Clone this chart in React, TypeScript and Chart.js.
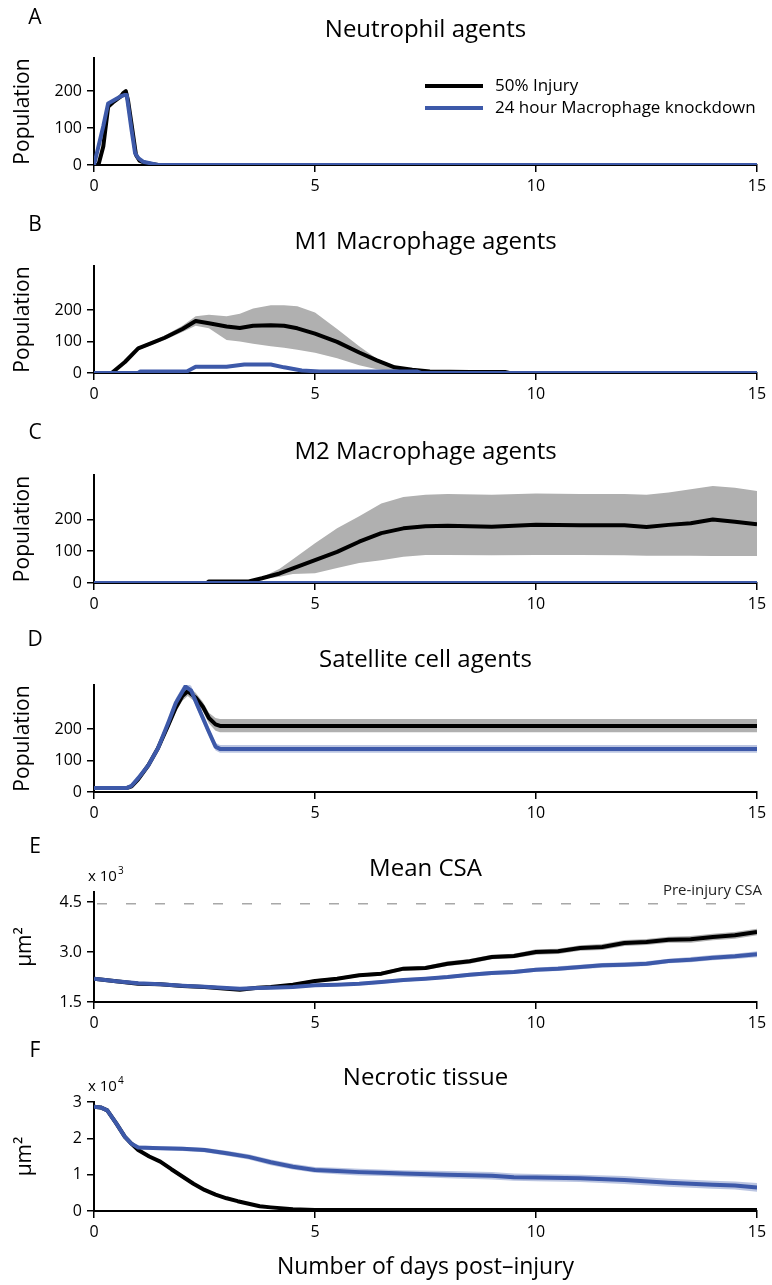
import React, { useEffect, useRef } from "react";
import { Chart, registerables } from "chart.js";
Chart.register(...registerables);

const FONT = "'Open Sans', 'DejaVu Sans', sans-serif";
Chart.defaults.font.family = FONT;
Chart.defaults.color = "#000";

const BLACK = "#000000";
const BLUE = "#3d59a9";
const BLUE_BAND = "rgba(61,89,169,0.35)";
const GRAY_BAND = "#b0b0b0";
const REF_GRAY = "#a8a8a8";

// ---------- tick values ----------
const xTickValues = [0, 5, 10, 15];
const popTicks = [0, 100, 200];
const csaTicks = [1.5, 3.0, 4.5];
const necTicks = [0, 1, 2, 3];

// ---------- legend ----------
const legendLabels = ["50% Injury", "24 hour Macrophage knockdown"];

// ---------- A: Neutrophil agents ----------
const aInjDays = [0, 0.1, 0.21, 0.32, 0.45, 0.6, 0.66, 0.72, 0.77, 0.85, 0.95, 1.03, 1.15, 1.3, 1.45, 15];
const aInj = [0, 0, 50, 158, 172, 185, 195, 200, 175, 110, 27, 12, 6, 3, 0, 0];
const aKdDays = [0, 0.02, 0.21, 0.32, 0.44, 0.59, 0.7, 0.74, 0.85, 0.93, 1.0, 1.11, 1.34, 1.45, 15];
const aKd = [0, 0, 105, 167, 175, 185, 190, 190, 95, 32, 19, 9, 3, 0, 0];

// ---------- B: M1 Macrophage agents ----------
const bInjDays = [0, 0.4, 0.7, 1.0, 1.3, 1.6, 2.0, 2.3, 2.6, 3.0, 3.3, 3.6, 4.0, 4.3, 4.6, 5.0, 5.5, 6.0, 6.4, 6.8, 7.2, 7.6, 8.5, 9.3, 9.4, 15];
const bInj = [0, 0, 35, 78, 95, 112, 140, 165, 158, 148, 143, 150, 152, 150, 142, 125, 99, 65, 40, 18, 10, 5, 3, 3, 0, 0];
const bInjUp = [0, 0, 40, 83, 101, 119, 150, 180, 185, 180, 188, 205, 215, 215, 212, 192, 140, 85, 45, 22, 12, 6, 3, 3, 0, 0];
const bInjLo = [0, 0, 30, 73, 89, 105, 130, 150, 142, 105, 100, 93, 85, 80, 74, 64, 47, 25, 12, 5, 3, 2, 3, 3, 0, 0];
const bKdDays = [0, 1.0, 1.05, 2.1, 2.3, 3.0, 3.4, 4.0, 4.3, 4.7, 5.1, 7.3, 7.4, 15];
const bKd = [0, 0, 5, 5, 20, 20, 27, 27, 18, 8, 5, 5, 0, 0];
const bKdUp = [1, 1, 7, 7, 23, 23, 31, 31, 21, 10, 6, 6, 1, 1];
const bKdLo = [0, 0, 3, 3, 17, 17, 23, 23, 15, 6, 4, 4, 0, 0];

// ---------- C: M2 Macrophage agents ----------
const cInjDays = [0, 2.55, 2.6, 3.5, 3.8, 4.2, 4.5, 5.0, 5.5, 6.0, 6.5, 7.0, 7.5, 8.0, 9.0, 10.0, 11.0, 12.0, 12.5, 13.0, 13.5, 14.0, 14.5, 15.0];
const cInj = [0, 0, 5, 5, 15, 30, 46, 72, 98, 130, 157, 172, 179, 180, 177, 183, 182, 182, 176, 183, 188, 200, 193, 185];
const cInjUp = [0, 0, 5, 5, 18, 45, 75, 125, 172, 210, 250, 271, 278, 280, 278, 282, 280, 280, 278, 285, 295, 305, 300, 290];
const cInjLo = [0, 0, 5, 5, 12, 20, 28, 31, 47, 63, 72, 83, 88, 88, 87, 88, 88, 87, 86, 86, 86, 85, 85, 85];
const cKdDays = [0, 15];
const cKd = [0, 0];

// ---------- D: Satellite cell agents ----------
const dInjDays = [0, 0.75, 0.85, 1.0, 1.23, 1.45, 1.68, 1.85, 2.0, 2.12, 2.3, 2.46, 2.6, 2.75, 2.85, 15];
const dInj = [13, 13, 18, 40, 85, 140, 212, 268, 305, 320, 300, 272, 235, 215, 210, 210];
const dInjUp = [16, 16, 22, 46, 93, 150, 225, 282, 320, 335, 315, 287, 252, 235, 232, 232];
const dInjLo = [10, 10, 14, 34, 77, 130, 199, 254, 290, 305, 285, 257, 218, 195, 190, 190];
const dKdDays = [0, 0.75, 0.85, 1.0, 1.23, 1.45, 1.68, 1.85, 2.07, 2.2, 2.35, 2.58, 2.75, 2.85, 15];
const dKd = [13, 13, 20, 44, 85, 140, 220, 283, 335, 322, 272, 197, 144, 137, 137];
const dKdUp = [16, 16, 24, 50, 93, 150, 232, 297, 350, 337, 287, 210, 156, 149, 149];
const dKdLo = [10, 10, 16, 38, 77, 130, 208, 269, 320, 307, 257, 184, 132, 125, 125];

// ---------- E: Mean CSA (x 10^3 um^2) ----------
const eDays = [0, 0.5, 1, 1.5, 2, 2.5, 3, 3.3, 3.7, 4, 4.5, 5, 5.5, 6, 6.5, 7, 7.5, 8, 8.5, 9, 9.5, 10, 10.5, 11, 11.5, 12, 12.5, 13, 13.5, 14, 14.5, 15];
const eInj = [2.2, 2.12, 2.05, 2.03, 1.98, 1.95, 1.9, 1.87, 1.93, 1.95, 2.02, 2.13, 2.2, 2.3, 2.35, 2.5, 2.52, 2.65, 2.72, 2.85, 2.88, 3.0, 3.02, 3.12, 3.15, 3.27, 3.3, 3.37, 3.38, 3.45, 3.5, 3.6];
const eInjUp = [2.23, 2.15, 2.08, 2.06, 2.01, 1.98, 1.93, 1.9, 1.97, 1.99, 2.06, 2.18, 2.25, 2.35, 2.41, 2.56, 2.58, 2.72, 2.79, 2.92, 2.95, 3.08, 3.1, 3.2, 3.24, 3.36, 3.39, 3.46, 3.48, 3.55, 3.6, 3.7];
const eInjLo = [2.17, 2.09, 2.02, 2.0, 1.95, 1.92, 1.87, 1.84, 1.89, 1.91, 1.98, 2.08, 2.15, 2.25, 2.29, 2.44, 2.46, 2.58, 2.65, 2.78, 2.81, 2.92, 2.94, 3.04, 3.06, 3.18, 3.21, 3.28, 3.28, 3.35, 3.4, 3.5];
const eKd = [2.2, 2.12, 2.06, 2.03, 1.99, 1.96, 1.92, 1.9, 1.92, 1.93, 1.95, 2.0, 2.02, 2.05, 2.1, 2.16, 2.2, 2.25, 2.32, 2.37, 2.4, 2.47, 2.5, 2.55, 2.6, 2.62, 2.65, 2.73, 2.77, 2.83, 2.87, 2.93];
const eKdUp = [2.23, 2.15, 2.09, 2.06, 2.02, 1.99, 1.95, 1.93, 1.95, 1.96, 1.99, 2.04, 2.06, 2.1, 2.15, 2.21, 2.25, 2.3, 2.38, 2.43, 2.46, 2.53, 2.57, 2.62, 2.67, 2.69, 2.72, 2.8, 2.85, 2.91, 2.95, 3.02];
const eKdLo = [2.17, 2.09, 2.03, 2.0, 1.96, 1.93, 1.89, 1.87, 1.89, 1.9, 1.91, 1.96, 1.98, 2.0, 2.05, 2.11, 2.15, 2.2, 2.26, 2.31, 2.34, 2.41, 2.43, 2.48, 2.53, 2.55, 2.58, 2.66, 2.69, 2.75, 2.79, 2.84];
const ePreInjury = 4.45;

// ---------- F: Necrotic tissue (x 10^4 um^2) ----------
const fInjDays = [0, 0.15, 0.3, 0.5, 0.7, 0.85, 1.0, 1.25, 1.5, 1.75, 2.0, 2.25, 2.5, 2.75, 3.0, 3.25, 3.5, 3.75, 4.0, 4.5, 5, 15];
const fInj = [2.87, 2.85, 2.77, 2.42, 2.04, 1.85, 1.68, 1.5, 1.36, 1.15, 0.95, 0.75, 0.58, 0.45, 0.35, 0.27, 0.2, 0.13, 0.1, 0.05, 0.03, 0.03];
const fInjUp = [2.9, 2.88, 2.8, 2.45, 2.07, 1.88, 1.72, 1.54, 1.4, 1.2, 1.0, 0.8, 0.62, 0.49, 0.39, 0.3, 0.23, 0.16, 0.12, 0.07, 0.05, 0.05];
const fInjLo = [2.84, 2.82, 2.74, 2.39, 2.01, 1.82, 1.64, 1.46, 1.32, 1.1, 0.9, 0.7, 0.54, 0.41, 0.31, 0.24, 0.17, 0.1, 0.08, 0.03, 0.01, 0.01];
const fKdDays = [0, 0.15, 0.3, 0.5, 0.7, 0.85, 1.0, 1.5, 2.0, 2.5, 3.0, 3.5, 4.0, 4.5, 5.0, 5.5, 6.0, 6.5, 7.0, 8.0, 9.0, 9.5, 10, 11, 12, 13, 14, 14.5, 15];
const fKd = [2.87, 2.85, 2.77, 2.42, 2.04, 1.85, 1.75, 1.73, 1.71, 1.68, 1.59, 1.49, 1.34, 1.22, 1.13, 1.1, 1.07, 1.05, 1.03, 1.0, 0.97, 0.93, 0.92, 0.9, 0.85, 0.78, 0.72, 0.7, 0.65];
const fKdUp = [2.9, 2.88, 2.8, 2.45, 2.08, 1.89, 1.8, 1.78, 1.77, 1.74, 1.66, 1.56, 1.42, 1.3, 1.21, 1.19, 1.16, 1.14, 1.12, 1.1, 1.07, 1.03, 1.02, 1.0, 0.96, 0.89, 0.83, 0.81, 0.77];
const fKdLo = [2.84, 2.82, 2.74, 2.39, 2.0, 1.81, 1.7, 1.68, 1.65, 1.62, 1.52, 1.42, 1.26, 1.14, 1.05, 1.01, 0.98, 0.96, 0.94, 0.9, 0.87, 0.83, 0.82, 0.8, 0.74, 0.67, 0.61, 0.59, 0.53];

type Band = { days: number[]; upper: number[]; lower: number[]; color: string };
interface PanelCfg {
  top: number;
  height: number;
  chartTop: number;
  titleCenter: number;
  xAxisH: number;
  title: string;
  letter: string;
  letterY: number;
  yMin: number;
  yMax: number;
  yTicks: number[];
  yTitle: string;
  yTitlePad: number;
  yFmt: (v: number) => string;
  injDays: number[];
  inj: number[];
  kdDays: number[];
  kd: number[];
  injBand?: Band;
  kdBand?: Band;
  ref?: number;
  multiplier?: { base: string; exp: string; y: number };
  legend?: boolean;
  xTitle?: string;
}

const intFmt = (v: number) => String(v);

const panels: PanelCfg[] = [
  {
    top: 0, height: 200, chartTop: 58, titleCenter: 30, xAxisH: 35,
    title: "Neutrophil agents", letter: "A", letterY: 18,
    yMin: 0, yMax: 290, yTicks: popTicks, yTitle: "Population", yTitlePad: 10, yFmt: intFmt,
    injDays: aInjDays, inj: aInj, kdDays: aKdDays, kd: aKd, legend: true,
  },
  {
    top: 200, height: 208, chartTop: 266, titleCenter: 242, xAxisH: 35,
    title: "M1 Macrophage agents", letter: "B", letterY: 225,
    yMin: 0, yMax: 340, yTicks: popTicks, yTitle: "Population", yTitlePad: 10, yFmt: intFmt,
    injDays: bInjDays, inj: bInj, kdDays: bKdDays, kd: bKd,
    injBand: { days: bInjDays, upper: bInjUp, lower: bInjLo, color: GRAY_BAND },
    kdBand: { days: bKdDays, upper: bKdUp, lower: bKdLo, color: BLUE_BAND },
  },
  {
    top: 408, height: 210, chartTop: 475, titleCenter: 452, xAxisH: 35,
    title: "M2 Macrophage agents", letter: "C", letterY: 433,
    yMin: 0, yMax: 340, yTicks: popTicks, yTitle: "Population", yTitlePad: 10, yFmt: intFmt,
    injDays: cInjDays, inj: cInj, kdDays: cKdDays, kd: cKd,
    injBand: { days: cInjDays, upper: cInjUp, lower: cInjLo, color: GRAY_BAND },
  },
  {
    top: 618, height: 209, chartTop: 685, titleCenter: 660, xAxisH: 35,
    title: "Satellite cell agents", letter: "D", letterY: 640,
    yMin: 0, yMax: 340, yTicks: popTicks, yTitle: "Population", yTitlePad: 10, yFmt: intFmt,
    injDays: dInjDays, inj: dInj, kdDays: dKdDays, kd: dKd,
    injBand: { days: dInjDays, upper: dInjUp, lower: dInjLo, color: GRAY_BAND },
    kdBand: { days: dKdDays, upper: dKdUp, lower: dKdLo, color: BLUE_BAND },
  },
  {
    top: 827, height: 210, chartTop: 892, titleCenter: 869, xAxisH: 35,
    title: "Mean CSA", letter: "E", letterY: 847,
    yMin: 1.5, yMax: 4.8, yTicks: csaTicks, yTitle: "\u03bcm\u00b2", yTitlePad: 12, yFmt: (v) => v.toFixed(1),
    injDays: eDays, inj: eInj, kdDays: eDays, kd: eKd,
    injBand: { days: eDays, upper: eInjUp, lower: eInjLo, color: GRAY_BAND },
    kdBand: { days: eDays, upper: eKdUp, lower: eKdLo, color: BLUE_BAND },
    ref: ePreInjury,
    multiplier: { base: "x 10", exp: "3", y: 877 },
  },
  {
    top: 1037, height: 248, chartTop: 1102, titleCenter: 1078, xAxisH: 74,
    title: "Necrotic tissue", letter: "F", letterY: 1051,
    yMin: 0, yMax: 3, yTicks: necTicks, yTitle: "\u03bcm\u00b2", yTitlePad: 12, yFmt: intFmt,
    injDays: fInjDays, inj: fInj, kdDays: fKdDays, kd: fKd,
    injBand: { days: fInjDays, upper: fInjUp, lower: fInjLo, color: GRAY_BAND },
    kdBand: { days: fKdDays, upper: fKdUp, lower: fKdLo, color: BLUE_BAND },
    multiplier: { base: "x 10", exp: "4", y: 1087 },
    xTitle: "Number of days post\u2013injury",
  },
];

const pts = (xs: number[], ys: number[]) => xs.map((x, i) => ({ x, y: ys[i] }));

function buildConfig(p: PanelCfg): any {
  const datasets: any[] = [];
  datasets.push({
    label: legendLabels[1], data: pts(p.kdDays, p.kd), borderColor: BLUE, borderWidth: 4,
    pointRadius: 0, fill: false, tension: 0, borderJoinStyle: "round",
  });
  datasets.push({
    label: legendLabels[0], data: pts(p.injDays, p.inj), borderColor: BLACK, borderWidth: 4,
    pointRadius: 0, fill: false, tension: 0, borderJoinStyle: "round",
  });
  if (p.kdBand) {
    datasets.push({ label: "kd upper", data: pts(p.kdBand.days, p.kdBand.upper), borderWidth: 0, pointRadius: 0, backgroundColor: p.kdBand.color, fill: "+1", tension: 0 });
    datasets.push({ label: "kd lower", data: pts(p.kdBand.days, p.kdBand.lower), borderWidth: 0, pointRadius: 0, fill: false, tension: 0 });
  }
  if (p.injBand) {
    datasets.push({ label: "inj upper", data: pts(p.injBand.days, p.injBand.upper), borderWidth: 0, pointRadius: 0, backgroundColor: p.injBand.color, fill: "+1", tension: 0 });
    datasets.push({ label: "inj lower", data: pts(p.injBand.days, p.injBand.lower), borderWidth: 0, pointRadius: 0, fill: false, tension: 0 });
  }
  if (p.ref !== undefined) {
    datasets.push({
      label: "Pre-injury CSA", data: [{ x: 0, y: p.ref }, { x: 15, y: p.ref }],
      borderColor: REF_GRAY, borderWidth: 1.5, borderDash: [10, 19], borderDashOffset: -3, pointRadius: 0, fill: false,
    });
  }

  const rel = (abs: number) => abs - p.top;
  const lh = 24 * 1.2;
  const tPadTop = rel(p.titleCenter) - lh / 2;
  const tPadBottom = rel(p.chartTop) - tPadTop - lh;

  const overlay = {
    id: "overlay" + p.letter,
    afterDraw(chart: any) {
      const ctx = chart.ctx;
      ctx.save();
      ctx.fillStyle = "#000";
      ctx.textBaseline = "middle";
      ctx.textAlign = "center";
      ctx.font = `21px ${FONT}`;
      ctx.fillText(p.letter, 35, rel(p.letterY));
      if (p.multiplier) {
        ctx.textAlign = "left";
        ctx.font = `15px ${FONT}`;
        ctx.fillText(p.multiplier.base, 88, rel(p.multiplier.y));
        const w = ctx.measureText(p.multiplier.base).width;
        ctx.font = `10px ${FONT}`;
        ctx.fillText(p.multiplier.exp, 88 + w + 1, rel(p.multiplier.y) - 6);
      }
      if (p.ref !== undefined) {
        ctx.textAlign = "right";
        ctx.font = `15px ${FONT}`;
        ctx.fillStyle = "#222";
        ctx.fillText("Pre-injury CSA", 762, rel(891));
      }
      if (p.legend) {
        const items = [
          { label: legendLabels[0], color: BLACK, y: 86 },
          { label: legendLabels[1], color: BLUE, y: 108 },
        ];
        ctx.textAlign = "left";
        ctx.font = `17px ${FONT}`;
        items.forEach((it) => {
          ctx.strokeStyle = it.color;
          ctx.lineWidth = 4;
          ctx.beginPath();
          ctx.moveTo(425, rel(it.y));
          ctx.lineTo(483, rel(it.y));
          ctx.stroke();
          ctx.fillStyle = "#000";
          ctx.fillText(it.label, 495, rel(it.y));
        });
      }
      ctx.restore();
    },
  };

  const axisCommon = {
    grid: { drawOnChartArea: false, drawTicks: true, tickLength: 7, color: "#000", lineWidth: 1.5 },
    border: { display: true, color: "#000", width: 2 },
  };

  return {
    type: "line",
    data: { datasets },
    plugins: [overlay],
    options: {
      responsive: false,
      animation: false,
      events: [],
      layout: { padding: { top: 0, right: 15, left: 0, bottom: 0 } },
      plugins: {
        legend: { display: false },
        tooltip: { enabled: false },
        title: {
          display: true, text: p.title, color: "#000", fullSize: false,
          font: { size: 24, weight: "normal", family: FONT },
          padding: { top: tPadTop, bottom: tPadBottom },
        },
      },
      scales: {
        x: {
          type: "linear", min: 0, max: 15,
          afterBuildTicks: (s: any) => { s.ticks = xTickValues.map((v) => ({ value: v })); },
          afterFit: (s: any) => { s.height = p.xAxisH; },
          ticks: { font: { size: 16, family: FONT }, color: "#000", padding: 5, maxRotation: 0, callback: (v: any) => String(v) },
          title: p.xTitle
            ? { display: true, text: p.xTitle, color: "#000", font: { size: 23, family: FONT }, padding: { top: 4, bottom: 4 } }
            : { display: false },
          ...axisCommon,
        },
        y: {
          type: "linear", min: p.yMin, max: p.yMax,
          afterBuildTicks: (s: any) => { s.ticks = p.yTicks.map((v) => ({ value: v })); },
          afterFit: (s: any) => { s.width = 94; },
          ticks: { font: { size: 16, family: FONT }, color: "#000", padding: 5, callback: (v: any) => p.yFmt(Number(v)) },
          title: { display: true, text: p.yTitle, color: "#000", font: { size: 21, family: FONT }, padding: { top: p.yTitlePad, bottom: 0 } },
          ...axisCommon,
        },
      },
    },
  };
}

function Panel({ cfg }: { cfg: PanelCfg }) {
  const ref = useRef<HTMLCanvasElement>(null);
  useEffect(() => {
    if (!ref.current) return;
    const chart = new Chart(ref.current, buildConfig(cfg));
    return () => chart.destroy();
  }, [cfg]);
  return (
    <div style={{ position: "absolute", left: 0, top: cfg.top, width: 772, height: cfg.height }}>
      <canvas ref={ref} width={772} height={cfg.height} style={{ display: "block", width: 772, height: cfg.height }} />
    </div>
  );
}

export default function App() {
  return (
    <div style={{ position: "absolute", left: 0, top: 0, width: 772, height: 1285, background: "#fff", overflow: "hidden" }}>
      {panels.map((p) => (
        <Panel key={p.letter} cfg={p} />
      ))}
    </div>
  );
}
